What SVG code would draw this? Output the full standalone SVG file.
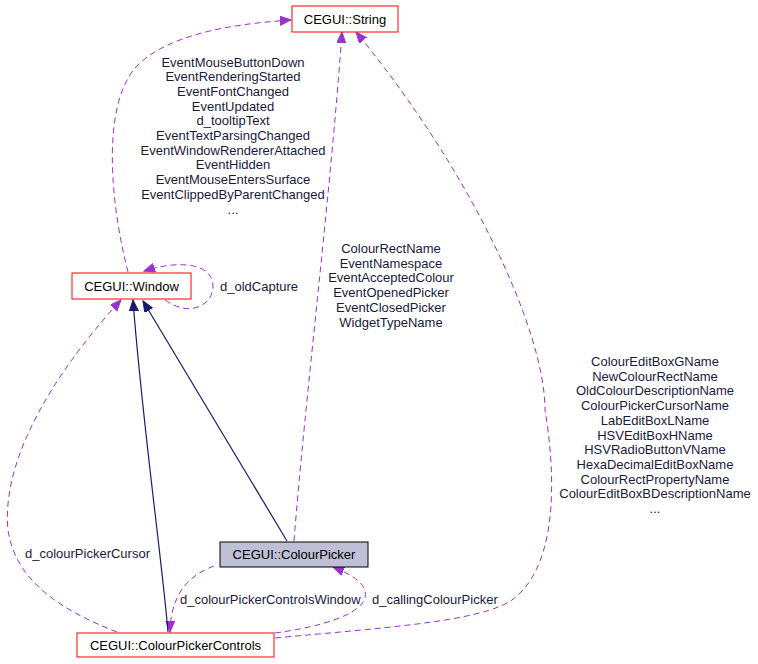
<svg xmlns="http://www.w3.org/2000/svg" width="758" height="664" viewBox="0 0 758 664">
<style>
.node rect{stroke:#ff0000;stroke-width:1;fill:#ffffff}
.node text{font-family:"Liberation Sans",Arial,sans-serif;font-size:13px;fill:#000000;text-anchor:middle}
.dash{fill:none;stroke:#9a32cd;stroke-width:1;stroke-dasharray:6,4}
.solid{fill:none;stroke:#191970;stroke-width:1.2}
.lbl{font-family:"Liberation Sans",Arial,sans-serif;font-size:13px;fill:#1a1a3a}
.mid{text-anchor:middle}
</style>
<defs>
<marker id="ap" markerUnits="userSpaceOnUse" markerWidth="12" markerHeight="10" refX="11" refY="4.5" orient="auto">
<path d="M0,0 L11,4.5 L0,9 z" fill="#9a32cd" stroke="#9a32cd"/>
</marker>
<marker id="an" markerUnits="userSpaceOnUse" markerWidth="12" markerHeight="10" refX="11" refY="4.5" orient="auto">
<path d="M0,0 L11,4.5 L0,9 z" fill="#191970" stroke="#191970"/>
</marker>
</defs>
<g id="connectors">
<path class="dash" d="M128,272 C112,210 100,110 135,68 C165,35 230,24 291,20" marker-end="url(#ap)"/>
<path class="dash" d="M165,300 C190,318 213,305 213,286 C213,266 185,258 144,271" marker-end="url(#ap)"/>
<path class="dash" d="M294,541 C305,400 330,200 342,32" marker-end="url(#ap)"/>
<path class="dash" d="M275,638 C380,628 480,622 512,600 C560,565 555,470 545,410 C545,330 470,170 356,32" marker-end="url(#ap)"/>
<path class="dash" d="M275,633 C320,627 360,615 365,598 C368,585 355,576 333,567" marker-end="url(#ap)"/>
<path class="dash" d="M214,566 C190,575 171,592 170,632" marker-end="url(#ap)"/>
<path class="dash" d="M117,632 C60,610 15,580 8,530 C0,450 70,355 121,300" marker-end="url(#ap)"/>
<path class="solid" d="M168,632 C162,560 142,420 133,300" marker-end="url(#an)"/>
<path class="solid" d="M287,541 L143,301" marker-end="url(#an)"/>
<text class="lbl mid" x="233" y="66.5">EventMouseButtonDown</text>
<text class="lbl mid" x="233" y="81.2">EventRenderingStarted</text>
<text class="lbl mid" x="233" y="95.9">EventFontChanged</text>
<text class="lbl mid" x="233" y="110.6">EventUpdated</text>
<text class="lbl mid" x="233" y="125.3">d_tooltipText</text>
<text class="lbl mid" x="233" y="140">EventTextParsingChanged</text>
<text class="lbl mid" x="233" y="154.7">EventWindowRendererAttached</text>
<text class="lbl mid" x="233" y="169.4">EventHidden</text>
<text class="lbl mid" x="233" y="184.1">EventMouseEntersSurface</text>
<text class="lbl mid" x="233" y="198.8">EventClippedByParentChanged</text>
<text class="lbl mid" x="233" y="213.5">...</text>
<text class="lbl" x="220" y="291">d_oldCapture</text>
<text class="lbl mid" x="391" y="253">ColourRectName</text>
<text class="lbl mid" x="391" y="267.7">EventNamespace</text>
<text class="lbl mid" x="391" y="282.4">EventAcceptedColour</text>
<text class="lbl mid" x="391" y="297.1">EventOpenedPicker</text>
<text class="lbl mid" x="391" y="311.8">EventClosedPicker</text>
<text class="lbl mid" x="391" y="326.5">WidgetTypeName</text>
<text class="lbl mid" x="655" y="366">ColourEditBoxGName</text>
<text class="lbl mid" x="655" y="380.7">NewColourRectName</text>
<text class="lbl mid" x="655" y="395.4">OldColourDescriptionName</text>
<text class="lbl mid" x="655" y="410.1">ColourPickerCursorName</text>
<text class="lbl mid" x="655" y="424.8">LabEditBoxLName</text>
<text class="lbl mid" x="655" y="439.5">HSVEditBoxHName</text>
<text class="lbl mid" x="655" y="454.2">HSVRadioButtonVName</text>
<text class="lbl mid" x="655" y="468.9">HexaDecimalEditBoxName</text>
<text class="lbl mid" x="655" y="483.6">ColourRectPropertyName</text>
<text class="lbl mid" x="655" y="498.3">ColourEditBoxBDescriptionName</text>
<text class="lbl mid" x="655" y="513">...</text>
<text class="lbl" x="25" y="558">d_colourPickerCursor</text>
<text class="lbl" x="180" y="603.5">d_colourPickerControlsWindow</text>
<text class="lbl" x="372" y="603.5">d_callingColourPicker</text>
</g>
<g id="node-string" class="node">
<rect x="292" y="6" width="106" height="26"/>
<text x="345" y="23.5">CEGUI::String</text>
</g>
<g id="node-window" class="node">
<rect x="72" y="273" width="119" height="26"/>
<text x="131.5" y="290.5">CEGUI::Window</text>
</g>
<g id="node-colourpicker" class="node">
<rect x="220" y="542" width="148" height="25" style="fill:#bfbfd6;stroke:#000000"/>
<text x="294" y="559">CEGUI::ColourPicker</text>
</g>
<g id="node-colourpickercontrols" class="node">
<rect x="77" y="633" width="197" height="24"/>
<text x="175.5" y="649.5">CEGUI::ColourPickerControls</text>
</g>
</svg>
